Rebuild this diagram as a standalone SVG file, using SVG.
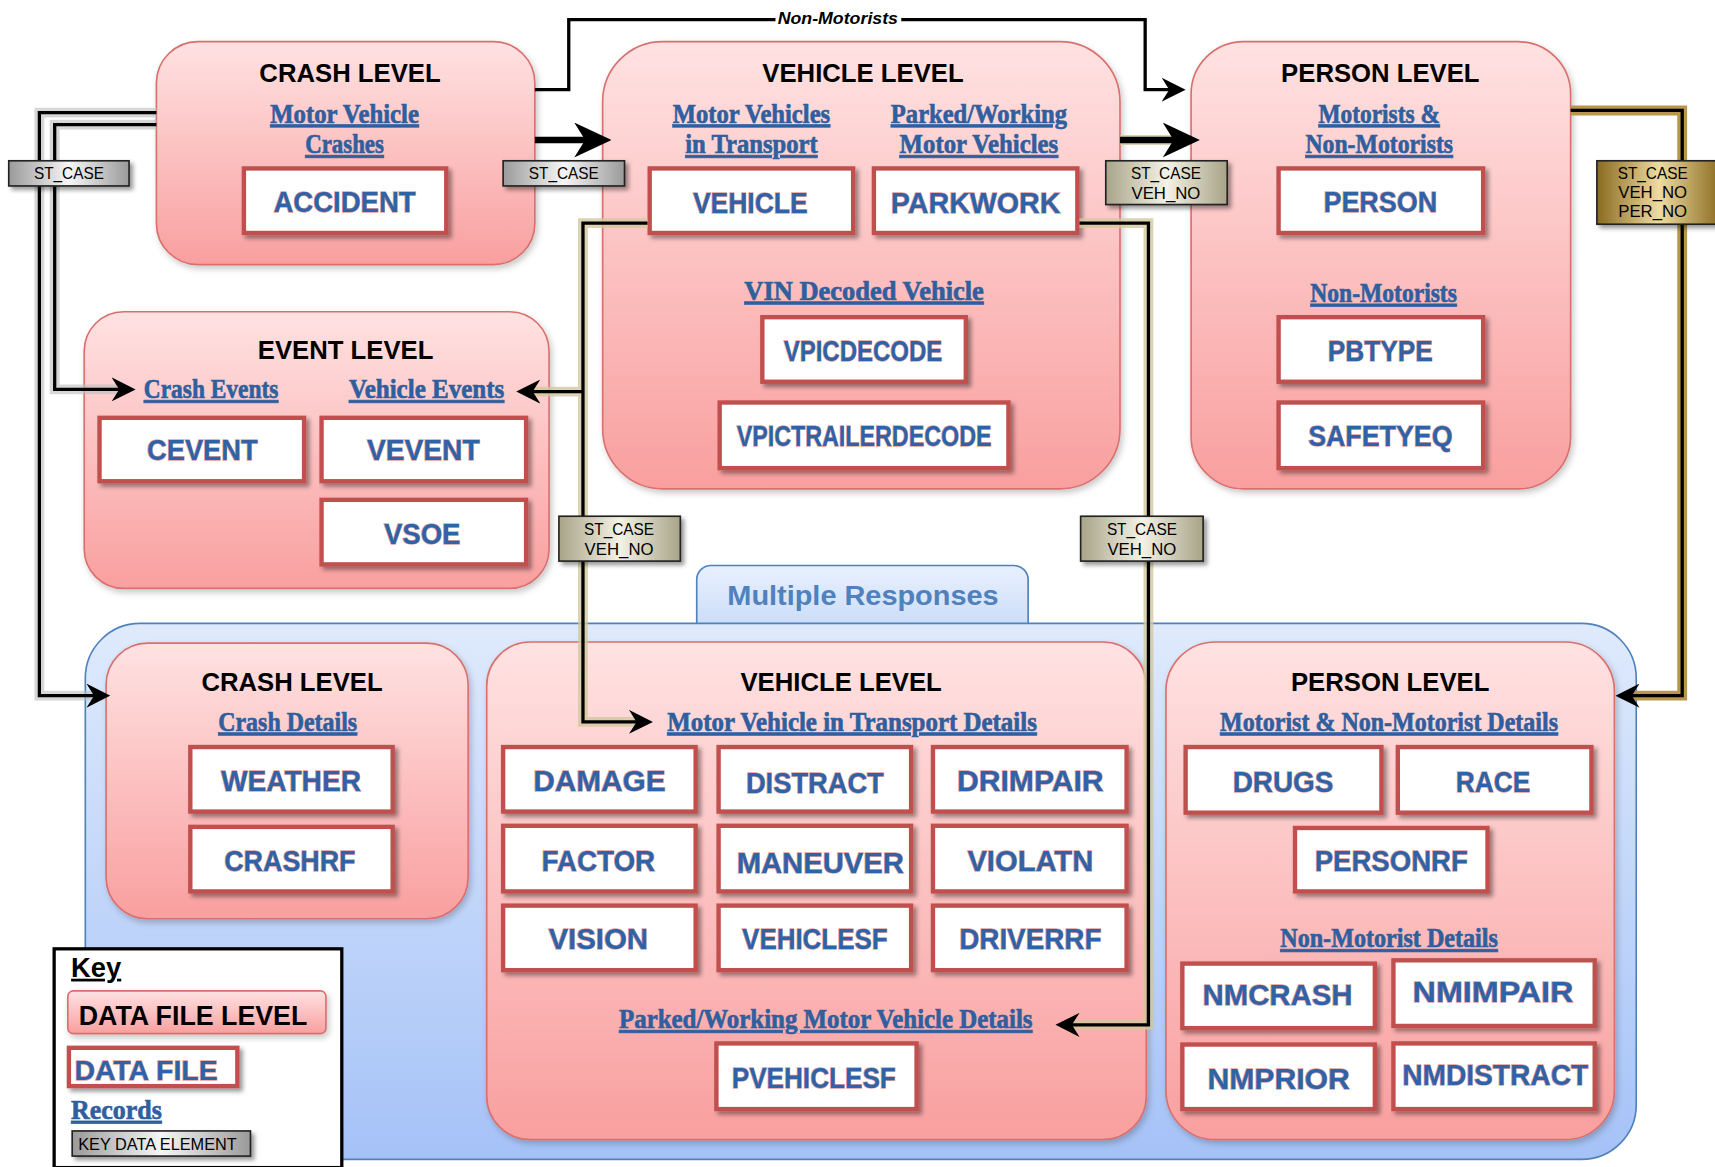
<svg xmlns="http://www.w3.org/2000/svg" width="1715" height="1167" viewBox="0 0 1715 1167">
<defs>
  <linearGradient id="pk" x1="0" y1="0" x2="0" y2="1"><stop offset="0" stop-color="#FFE2E2"/><stop offset="1" stop-color="#F99F9F"/></linearGradient>
  <linearGradient id="bl" x1="0" y1="0" x2="0" y2="1"><stop offset="0" stop-color="#DFEAFC"/><stop offset="1" stop-color="#A5C2F7"/></linearGradient>
  <linearGradient id="tab" x1="0" y1="0" x2="0" y2="1"><stop offset="0" stop-color="#E8F0FD"/><stop offset="1" stop-color="#C4D8F8"/></linearGradient>
  <linearGradient id="gr" x1="0" y1="0" x2="1" y2="0"><stop offset="0" stop-color="#9A9A9A"/><stop offset="0.5" stop-color="#F6F6F6"/><stop offset="1" stop-color="#9A9A9A"/></linearGradient>
  <linearGradient id="bg" x1="0" y1="0" x2="1" y2="0"><stop offset="0" stop-color="#A8A488"/><stop offset="0.5" stop-color="#F4F2E6"/><stop offset="1" stop-color="#A8A488"/></linearGradient>
  <linearGradient id="gd" x1="0" y1="0" x2="1" y2="0"><stop offset="0" stop-color="#8A6A1E"/><stop offset="0.5" stop-color="#EEDBA2"/><stop offset="1" stop-color="#8A6A1E"/></linearGradient>
  <filter id="sh" x="-10%" y="-10%" width="130%" height="140%"><feDropShadow dx="3" dy="3" stdDeviation="2" flood-color="#000" flood-opacity="0.4"/></filter>
  <filter id="sh2" x="-10%" y="-10%" width="130%" height="130%"><feDropShadow dx="2" dy="3" stdDeviation="3" flood-color="#000" flood-opacity="0.22"/></filter>
  <marker id="ah" markerUnits="userSpaceOnUse" viewBox="0 0 22 22" markerWidth="22" markerHeight="22" refX="10" refY="11" orient="auto"><path d="M0,0 L22,11 L0,22 L7,11 Z" fill="#000"/></marker>
  <marker id="ahb" markerUnits="userSpaceOnUse" viewBox="0 0 34 32" markerWidth="34" markerHeight="32" refX="14" refY="16" orient="auto"><path d="M0,0 L34,16 L0,32 L10,16 Z" fill="#000"/></marker>
</defs>
<style>
  .grp{fill:url(#pk);stroke:#D9706E;stroke-width:1.5;filter:url(#sh2)}
  .box{fill:#fff;stroke:#C0504D;stroke-width:4;filter:url(#sh)}
  .dft{font-family:"Liberation Sans",Arial,sans-serif;font-weight:bold;font-size:27px;fill:#2F62A6;stroke:#C0504D;stroke-width:1.2;stroke-opacity:0.55;paint-order:stroke;text-anchor:middle}
  .ttl{font-family:"Liberation Sans",Arial,sans-serif;font-weight:bold;font-size:23.5px;fill:#000;text-anchor:middle}
  .hd{font-family:"Liberation Serif","Times New Roman",serif;font-weight:bold;font-size:25px;fill:#2F5F9E;stroke:#2F5F9E;stroke-width:0.6;text-decoration:underline;text-anchor:middle}
  .lbl{font-family:"Liberation Sans",Arial,sans-serif;font-size:15.5px;fill:#000;text-anchor:middle}
  .ln{fill:none;stroke:#000;stroke-width:3}
  .lnb{fill:none;stroke:#000;stroke-width:6}
  .glg{fill:none;stroke:#BDBDBD;stroke-width:9;stroke-opacity:0.6}
  .glb{fill:none;stroke:#D2C89E;stroke-width:9;stroke-opacity:0.8}
  .gld{fill:none;stroke:#B8964A;stroke-width:9}
</style>
<g transform="scale(1.09375)">

<!-- background panel and tab -->
<g id="multiple-responses">
  <rect x="637" y="517" width="303" height="70" rx="13" fill="url(#tab)" stroke="#4F81BD" stroke-width="1.5"/>
  <text x="789" y="553" font-family="Liberation Sans, Arial, sans-serif" font-weight="bold" font-size="26" fill="#4F81BD" text-anchor="middle" textLength="248" lengthAdjust="spacingAndGlyphs">Multiple Responses</text>
  <rect x="78" y="570" width="1418" height="490" rx="50" fill="url(#bl)" stroke="#4F81BD" stroke-width="1.5"/>
</g>

<!-- group boxes -->
<g id="crash-level-top">
  <rect class="grp" x="143" y="38" width="346" height="204" rx="38"/>
  <text class="ttl" x="320" y="75">CRASH LEVEL</text>
  <text class="hd" x="315" y="112" textLength="136" lengthAdjust="spacingAndGlyphs">Motor Vehicle</text>
  <text class="hd" x="315" y="140" textLength="72" lengthAdjust="spacingAndGlyphs">Crashes</text>
</g>
<g id="vehicle-level-top">
  <rect class="grp" x="551" y="38" width="473" height="409" rx="55"/>
  <text class="ttl" x="789" y="75">VEHICLE LEVEL</text>
  <text class="hd" x="687" y="112" textLength="144" lengthAdjust="spacingAndGlyphs">Motor Vehicles</text>
  <text class="hd" x="687" y="140" textLength="121" lengthAdjust="spacingAndGlyphs">in Transport</text>
  <text class="hd" x="895" y="112" textLength="161" lengthAdjust="spacingAndGlyphs">Parked/Working</text>
  <text class="hd" x="895" y="140" textLength="145" lengthAdjust="spacingAndGlyphs">Motor Vehicles</text>
  <text class="hd" x="790" y="274" textLength="219" lengthAdjust="spacingAndGlyphs">VIN Decoded Vehicle</text>
</g>
<g id="person-level-top">
  <rect class="grp" x="1089" y="38" width="347" height="409" rx="48"/>
  <text class="ttl" x="1262" y="75">PERSON LEVEL</text>
  <text class="hd" x="1261" y="112" textLength="111" lengthAdjust="spacingAndGlyphs">Motorists &amp;</text>
  <text class="hd" x="1261" y="140" textLength="135" lengthAdjust="spacingAndGlyphs">Non-Motorists</text>
  <text class="hd" x="1265" y="276" textLength="134" lengthAdjust="spacingAndGlyphs">Non-Motorists</text>
</g>
<g id="event-level">
  <rect class="grp" x="77" y="285" width="425" height="253" rx="36"/>
  <text class="ttl" x="316" y="328">EVENT LEVEL</text>
  <text class="hd" x="193" y="364" textLength="123" lengthAdjust="spacingAndGlyphs">Crash Events</text>
  <text class="hd" x="390" y="364" textLength="142" lengthAdjust="spacingAndGlyphs">Vehicle Events</text>
</g>
<g id="crash-level-bottom">
  <rect class="grp" x="97" y="588" width="331" height="252" rx="38"/>
  <text class="ttl" x="267" y="632">CRASH LEVEL</text>
  <text class="hd" x="263" y="668" textLength="127" lengthAdjust="spacingAndGlyphs">Crash Details</text>
</g>
<g id="vehicle-level-bottom">
  <rect class="grp" x="445" y="587" width="603" height="455" rx="40"/>
  <text class="ttl" x="769" y="632">VEHICLE LEVEL</text>
  <text class="hd" x="779" y="668" textLength="338" lengthAdjust="spacingAndGlyphs">Motor Vehicle in Transport Details</text>
  <text class="hd" x="755" y="940" textLength="378" lengthAdjust="spacingAndGlyphs">Parked/Working Motor Vehicle Details</text>
</g>
<g id="person-level-bottom">
  <rect class="grp" x="1066" y="587" width="410" height="455" rx="45"/>
  <text class="ttl" x="1271" y="632">PERSON LEVEL</text>
  <text class="hd" x="1270" y="668" textLength="309" lengthAdjust="spacingAndGlyphs">Motorist &amp; Non-Motorist Details</text>
  <text class="hd" x="1270" y="866" textLength="199" lengthAdjust="spacingAndGlyphs">Non-Motorist Details</text>
</g>

<!-- data files -->
<g id="ACCIDENT"><rect class="box" x="223" y="154" width="185" height="59"/><text class="dft" x="315" y="194" textLength="130" lengthAdjust="spacingAndGlyphs">ACCIDENT</text></g>
<g id="VEHICLE"><rect class="box" x="594" y="154" width="186" height="59"/><text class="dft" x="686" y="195" textLength="105" lengthAdjust="spacingAndGlyphs">VEHICLE</text></g>
<g id="PARKWORK"><rect class="box" x="799" y="154" width="186" height="59"/><text class="dft" x="892" y="195" textLength="155" lengthAdjust="spacingAndGlyphs">PARKWORK</text></g>
<g id="PERSON"><rect class="box" x="1169" y="154" width="187" height="59"/><text class="dft" x="1262" y="194" textLength="104" lengthAdjust="spacingAndGlyphs">PERSON</text></g>
<g id="VPICDECODE"><rect class="box" x="697" y="290" width="186" height="59"/><text class="dft" x="789" y="330" textLength="145" lengthAdjust="spacingAndGlyphs">VPICDECODE</text></g>
<g id="VPICTRAILERDECODE"><rect class="box" x="658" y="368" width="264" height="60"/><text class="dft" x="790" y="408" textLength="233" lengthAdjust="spacingAndGlyphs">VPICTRAILERDECODE</text></g>
<g id="PBTYPE"><rect class="box" x="1169" y="290" width="187" height="59"/><text class="dft" x="1262" y="330" textLength="96" lengthAdjust="spacingAndGlyphs">PBTYPE</text></g>
<g id="SAFETYEQ"><rect class="box" x="1169" y="368" width="187" height="60"/><text class="dft" x="1262" y="408" textLength="132" lengthAdjust="spacingAndGlyphs">SAFETYEQ</text></g>
<g id="CEVENT"><rect class="box" x="91" y="382" width="187" height="58"/><text class="dft" x="185" y="421" textLength="101" lengthAdjust="spacingAndGlyphs">CEVENT</text></g>
<g id="VEVENT"><rect class="box" x="294" y="382" width="187" height="58"/><text class="dft" x="387" y="421" textLength="103" lengthAdjust="spacingAndGlyphs">VEVENT</text></g>
<g id="VSOE"><rect class="box" x="294" y="457" width="187" height="59"/><text class="dft" x="386" y="497" textLength="70" lengthAdjust="spacingAndGlyphs">VSOE</text></g>
<g id="WEATHER"><rect class="box" x="174" y="683" width="185" height="59"/><text class="dft" x="266" y="723" textLength="128" lengthAdjust="spacingAndGlyphs">WEATHER</text></g>
<g id="CRASHRF"><rect class="box" x="174" y="756" width="185" height="59"/><text class="dft" x="265" y="796" textLength="120" lengthAdjust="spacingAndGlyphs">CRASHRF</text></g>
<g id="DAMAGE"><rect class="box" x="460" y="683" width="176" height="59"/><text class="dft" x="548" y="723" textLength="121" lengthAdjust="spacingAndGlyphs">DAMAGE</text></g>
<g id="DISTRACT"><rect class="box" x="657" y="683" width="176" height="59"/><text class="dft" x="745" y="725" textLength="126" lengthAdjust="spacingAndGlyphs">DISTRACT</text></g>
<g id="DRIMPAIR"><rect class="box" x="853" y="683" width="177" height="59"/><text class="dft" x="942" y="723" textLength="134" lengthAdjust="spacingAndGlyphs">DRIMPAIR</text></g>
<g id="FACTOR"><rect class="box" x="460" y="755" width="176" height="60"/><text class="dft" x="547" y="796" textLength="104" lengthAdjust="spacingAndGlyphs">FACTOR</text></g>
<g id="MANEUVER"><rect class="box" x="657" y="755" width="176" height="60"/><text class="dft" x="750" y="798" textLength="153" lengthAdjust="spacingAndGlyphs">MANEUVER</text></g>
<g id="VIOLATN"><rect class="box" x="853" y="755" width="177" height="60"/><text class="dft" x="942" y="796" textLength="115" lengthAdjust="spacingAndGlyphs">VIOLATN</text></g>
<g id="VISION"><rect class="box" x="460" y="828" width="176" height="59"/><text class="dft" x="547" y="868" textLength="91" lengthAdjust="spacingAndGlyphs">VISION</text></g>
<g id="VEHICLESF"><rect class="box" x="657" y="828" width="176" height="59"/><text class="dft" x="745" y="868" textLength="133" lengthAdjust="spacingAndGlyphs">VEHICLESF</text></g>
<g id="DRIVERRF"><rect class="box" x="853" y="828" width="177" height="59"/><text class="dft" x="942" y="868" textLength="130" lengthAdjust="spacingAndGlyphs">DRIVERRF</text></g>
<g id="PVEHICLESF"><rect class="box" x="655" y="954" width="183" height="60"/><text class="dft" x="744" y="995" textLength="150" lengthAdjust="spacingAndGlyphs">PVEHICLESF</text></g>
<g id="DRUGS"><rect class="box" x="1084" y="683" width="179" height="60"/><text class="dft" x="1173" y="724" textLength="92" lengthAdjust="spacingAndGlyphs">DRUGS</text></g>
<g id="RACE"><rect class="box" x="1278" y="683" width="177" height="60"/><text class="dft" x="1365" y="724" textLength="68" lengthAdjust="spacingAndGlyphs">RACE</text></g>
<g id="PERSONRF"><rect class="box" x="1184" y="757" width="176" height="58"/><text class="dft" x="1272" y="796" textLength="140" lengthAdjust="spacingAndGlyphs">PERSONRF</text></g>
<g id="NMCRASH"><rect class="box" x="1081" y="881" width="176" height="59"/><text class="dft" x="1168" y="919" textLength="137" lengthAdjust="spacingAndGlyphs">NMCRASH</text></g>
<g id="NMIMPAIR"><rect class="box" x="1274" y="878" width="184" height="60"/><text class="dft" x="1365" y="916" textLength="147" lengthAdjust="spacingAndGlyphs">NMIMPAIR</text></g>
<g id="NMPRIOR"><rect class="box" x="1081" y="955" width="176" height="59"/><text class="dft" x="1169" y="996" textLength="130" lengthAdjust="spacingAndGlyphs">NMPRIOR</text></g>
<g id="NMDISTRACT"><rect class="box" x="1274" y="954" width="184" height="60"/><text class="dft" x="1367" y="992" textLength="170" lengthAdjust="spacingAndGlyphs">NMDISTRACT</text></g>

<!-- connectors -->
<g id="connectors">
  <path class="glg" d="M143,103 H36 V636 H89"/>
  <path class="glg" d="M143,114 H50 V356 H112"/>
  <path class="ln" d="M143,103 H36 V636 H89" marker-end="url(#ah)"/>
  <path class="ln" d="M143,114 H50 V356 H112" marker-end="url(#ah)"/>
  <path class="lnb" d="M489,128 H539" marker-end="url(#ahb)"/>
  <path class="glb" d="M1024,128 H1077"/>
  <path class="lnb" d="M1024,128 H1077" marker-end="url(#ahb)"/>
  <path class="ln" d="M489,82 H520 V18 H1047 V82 H1072" marker-end="url(#ah)"/>
  <rect x="709" y="8" width="115" height="19" fill="#fff"/>
  <text x="766" y="22" font-family="Liberation Sans, Arial, sans-serif" font-weight="bold" font-style="italic" font-size="15" text-anchor="middle" textLength="110" lengthAdjust="spacingAndGlyphs">Non-Motorists</text>
  <path class="glb" d="M592,204 H533 V660 H585 M533,358 H484"/>
  <path class="ln" d="M592,204 H533 V660 H585" marker-end="url(#ah)"/>
  <path class="ln" d="M533,358 H484" marker-end="url(#ah)"/>
  <path class="glb" d="M987,204 H1050 V937 H977"/>
  <path class="ln" d="M987,204 H1050 V937 H977" marker-end="url(#ah)"/>
  <path class="gld" d="M1436,101 H1538 V636 H1489"/>
  <path class="ln" d="M1436,101 H1538 V636 H1489" marker-end="url(#ah)"/>
</g>

<!-- key element labels -->
<g id="label-st-case-left">
  <rect x="8" y="147" width="110" height="23" fill="url(#gr)" stroke="#222" stroke-width="1.5" filter="url(#sh)"/>
  <text class="lbl" x="63" y="164" textLength="64" lengthAdjust="spacingAndGlyphs">ST_CASE</text>
</g>
<g id="label-st-case-mid">
  <rect x="460" y="147" width="111" height="23" fill="url(#gr)" stroke="#222" stroke-width="1.5" filter="url(#sh)"/>
  <text class="lbl" x="515.5" y="164" textLength="64" lengthAdjust="spacingAndGlyphs">ST_CASE</text>
</g>
<g id="label-veh-person">
  <rect x="1011" y="147" width="111" height="40" fill="url(#bg)" stroke="#222" stroke-width="1.5" filter="url(#sh)"/>
  <text class="lbl" x="1066" y="164" textLength="64" lengthAdjust="spacingAndGlyphs">ST_CASE</text>
  <text class="lbl" x="1066" y="182" textLength="63" lengthAdjust="spacingAndGlyphs">VEH_NO</text>
</g>
<g id="label-person-gold">
  <rect x="1460" y="147" width="114" height="58" fill="url(#gd)" stroke="#222" stroke-width="1.5" filter="url(#sh)"/>
  <text class="lbl" x="1511" y="164" textLength="64" lengthAdjust="spacingAndGlyphs">ST_CASE</text>
  <text class="lbl" x="1511" y="181" textLength="63" lengthAdjust="spacingAndGlyphs">VEH_NO</text>
  <text class="lbl" x="1511" y="198" textLength="63" lengthAdjust="spacingAndGlyphs">PER_NO</text>
</g>
<g id="label-vehicle-left">
  <rect x="511" y="472" width="111" height="41" fill="url(#bg)" stroke="#222" stroke-width="1.5" filter="url(#sh)"/>
  <text class="lbl" x="566" y="489" textLength="64" lengthAdjust="spacingAndGlyphs">ST_CASE</text>
  <text class="lbl" x="566" y="507" textLength="63" lengthAdjust="spacingAndGlyphs">VEH_NO</text>
</g>
<g id="label-parkwork-right">
  <rect x="988" y="472" width="112" height="41" fill="url(#bg)" stroke="#222" stroke-width="1.5" filter="url(#sh)"/>
  <text class="lbl" x="1044" y="489" textLength="64" lengthAdjust="spacingAndGlyphs">ST_CASE</text>
  <text class="lbl" x="1044" y="507" textLength="63" lengthAdjust="spacingAndGlyphs">VEH_NO</text>
</g>

<!-- key -->
<g id="key">
  <rect x="49.5" y="867.5" width="263" height="200" fill="#fff" stroke="#000" stroke-width="3"/>
  <text x="65" y="893" font-family="Liberation Sans, Arial, sans-serif" font-weight="bold" font-size="25" text-decoration="underline">Key</text>
  <rect x="62" y="906" width="236" height="39" rx="5" fill="url(#pk)" stroke="#D9706E" stroke-width="1.5" filter="url(#sh2)"/>
  <text x="72" y="937" font-family="Liberation Sans, Arial, sans-serif" font-weight="bold" font-size="26" textLength="209" lengthAdjust="spacingAndGlyphs">DATA FILE LEVEL</text>
  <rect class="box" x="63" y="958" width="154" height="35"/>
  <text x="68" y="987" font-family="Liberation Sans, Arial, sans-serif" font-weight="bold" font-size="26" fill="#2F62A6" stroke="#C0504D" stroke-width="1.2" stroke-opacity="0.55" paint-order="stroke" textLength="131" lengthAdjust="spacingAndGlyphs">DATA FILE</text>
  <text class="hd" x="65" y="1023" style="text-anchor:start" textLength="83" lengthAdjust="spacingAndGlyphs">Records</text>
  <rect x="66" y="1034" width="163" height="23" fill="url(#gr)" stroke="#222" stroke-width="1.5" filter="url(#sh)"/>
  <text class="lbl" x="144" y="1051" textLength="145" lengthAdjust="spacingAndGlyphs">KEY DATA ELEMENT</text>
</g>
</g>
</svg>
